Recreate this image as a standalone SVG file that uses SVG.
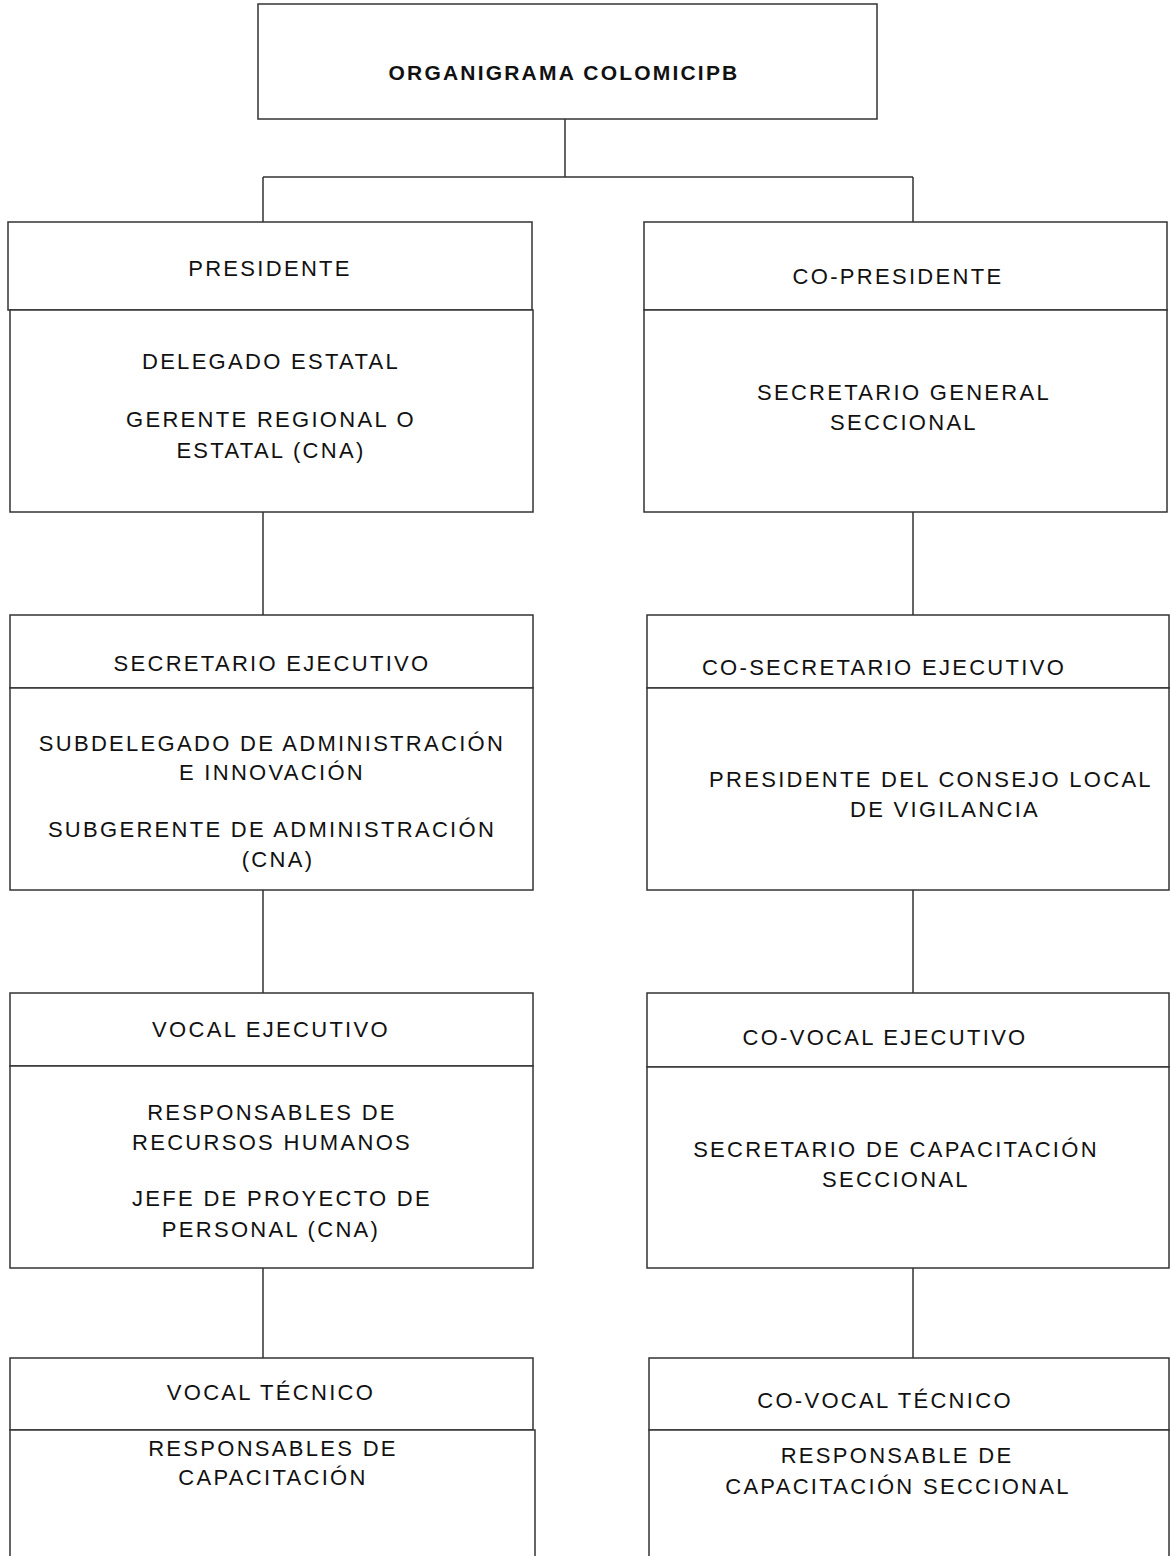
<svg xmlns="http://www.w3.org/2000/svg" width="1170" height="1556" viewBox="0 0 1170 1556">
<style>
rect{fill:#fff;stroke:#333;stroke-width:1.5}
.c{fill:none;stroke:#333;stroke-width:1.5}
text{font-family:"Liberation Sans",Arial,sans-serif;font-size:22px;letter-spacing:2.3px;fill:#111;text-anchor:middle}
.t{font-weight:bold;font-size:21px;letter-spacing:2.2px}
</style>
<rect x="0" y="0" width="1170" height="1556" style="stroke:none"/>
<g id="connectors">
<path class="c" d="M565 119V177M263 177H913M263 177V222M913 177V222M263 512V615M913 512V615M263 890V993M913 890V993M263 1268V1358M913 1268V1358"/>
</g>
<g id="title"><rect x="258" y="4" width="619" height="115"/><text class="t" x="564" y="80">ORGANIGRAMA COLOMICIPB</text></g>
<g id="presidente">
<rect x="8" y="222" width="524" height="88"/><rect x="10" y="310" width="523" height="202"/>
<text x="270" y="276">PRESIDENTE</text>
<text x="271" y="369">DELEGADO ESTATAL</text>
<text x="271" y="427">GERENTE REGIONAL O</text>
<text x="271" y="458">ESTATAL (CNA)</text>
</g>
<g id="copresidente">
<rect x="644" y="222" width="523" height="88"/><rect x="644" y="310" width="523" height="202"/>
<text x="898" y="284">CO-PRESIDENTE</text>
<text x="904" y="400">SECRETARIO GENERAL</text>
<text x="904" y="430">SECCIONAL</text>
</g>
<g id="secretario">
<rect x="10" y="615" width="523" height="73"/><rect x="10" y="688" width="523" height="202"/>
<text x="272" y="671">SECRETARIO EJECUTIVO</text>
<text x="272" y="751">SUBDELEGADO DE ADMINISTRACIÓN</text>
<text x="272" y="780">E INNOVACIÓN</text>
<text x="272" y="837">SUBGERENTE DE ADMINISTRACIÓN</text>
<text x="278" y="867">(CNA)</text>
</g>
<g id="cosecretario">
<rect x="647" y="615" width="522" height="73"/><rect x="647" y="688" width="522" height="202"/>
<text x="884" y="675">CO-SECRETARIO EJECUTIVO</text>
<text x="931" y="787">PRESIDENTE DEL CONSEJO LOCAL</text>
<text x="945" y="817">DE VIGILANCIA</text>
</g>
<g id="vocal">
<rect x="10" y="993" width="523" height="73"/><rect x="10" y="1066" width="523" height="202"/>
<text x="271" y="1037">VOCAL EJECUTIVO</text>
<text x="272" y="1120">RESPONSABLES DE</text>
<text x="272" y="1150">RECURSOS HUMANOS</text>
<text x="282" y="1206">JEFE DE PROYECTO DE</text>
<text x="271" y="1237">PERSONAL (CNA)</text>
</g>
<g id="covocal">
<rect x="647" y="993" width="522" height="74"/><rect x="647" y="1067" width="522" height="201"/>
<text x="885" y="1045">CO-VOCAL EJECUTIVO</text>
<text x="896" y="1157">SECRETARIO DE CAPACITACIÓN</text>
<text x="896" y="1187">SECCIONAL</text>
</g>
<g id="vocaltecnico">
<rect x="10" y="1358" width="523" height="72"/><rect x="10" y="1430" width="525" height="140"/>
<text x="271" y="1400">VOCAL TÉCNICO</text>
<text x="273" y="1456">RESPONSABLES DE</text>
<text x="273" y="1485">CAPACITACIÓN</text>
</g>
<g id="covocaltecnico">
<rect x="649" y="1358" width="520" height="72"/><rect x="649" y="1430" width="520" height="140"/>
<text x="885" y="1408">CO-VOCAL TÉCNICO</text>
<text x="897" y="1463">RESPONSABLE DE</text>
<text x="898" y="1494">CAPACITACIÓN SECCIONAL</text>
</g>
</svg>
